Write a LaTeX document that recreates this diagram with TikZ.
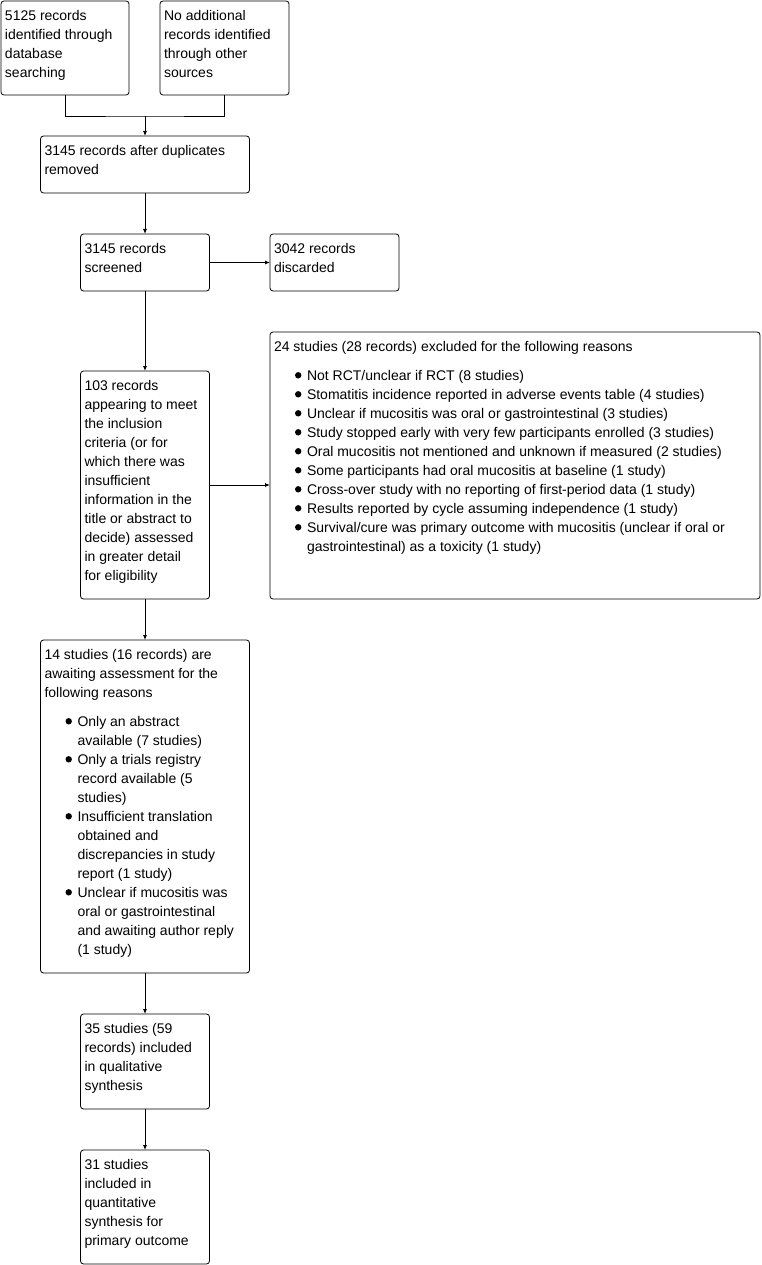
\documentclass[tikz,border=0pt]{standalone}
\usepackage{fontspec}
\setmainfont{Liberation Sans}
\usetikzlibrary{arrows.meta}
\newcommand{\boxtext}[3]{\parbox[t][#2pt][t]{#1pt}{\raggedright\strut #3}}
\newcommand{\dotmark}{\tikz[baseline=-5pt]\fill (0,0) circle (3.2pt);}
\newcommand{\bitem}[1]{\par\hangindent=33pt\hangafter=1\noindent\makebox[33pt][l]{\hspace{21pt}\dotmark}#1}
\begin{document}
\begin{tikzpicture}[x=1pt, y=-1pt,
		box/.style={draw, rounded corners=3pt, line width=0.8pt, anchor=north west, inner xsep=4pt, inner ysep=6pt, outer sep=0pt, font=\fontsize{14}{19}\selectfont},
		arr/.style={-{Latex[length=5pt,width=4pt]}, line width=0.8pt},
		link/.style={line width=0.8pt}]
	\useasboundingbox (0,0) rectangle (761,1265);
	\node[box] (db) 		at (1,1) 			{\boxtext{120}{82}{5125 records\\identified through\\database\\searching}};
	\node[box] (other) 		at (160,1) 		{\boxtext{121}{82}{No additional\\records identified\\through other\\sources}};
	\node[box] (dup) 		at (40.5,136) 	{\boxtext{201}{45}{3145 records after duplicates\\removed}};
	\node[box] (screen) 	at (80.5,234) 	{\boxtext{121}{45}{3145 records\\screened}};
	\node[box] (discard) 	at (270,234) 		{\boxtext{121}{45}{3042 records\\discarded}};
	\node[box] (full) 		at (80.5,371) 	{\boxtext{121}{216}{103 records\\appearing to meet\\the inclusion\\criteria (or for\\which there was\\insufficient\\information in the\\title or abstract to\\decide) assessed\\in greater detail\\for eligibility}};
	\node[box] (excl) 		at (270,332) 		{\boxtext{482}{255}{24 studies (28 records) excluded for the following reasons\par\vspace{10pt}
		\bitem{Not RCT/unclear if RCT (8 studies)}
		\bitem{Stomatitis incidence reported in adverse events table (4 studies)}
		\bitem{Unclear if mucositis was oral or gastrointestinal (3 studies)}
		\bitem{Study stopped early with very few participants enrolled (3 studies)}
		\bitem{Oral mucositis not mentioned and unknown if measured (2 studies)}
		\bitem{Some participants had oral mucositis at baseline (1 study)}
		\bitem{Cross-over study with no reporting of first-period data (1 study)}
		\bitem{Results reported by cycle assuming independence (1 study)}
		\bitem{Survival/cure was primary outcome with mucositis (unclear if oral or\newline gastrointestinal) as a toxicity (1 study)}}};
	\node[box] (await) 		at (40.5,640) 	{\boxtext{201}{321}{14 studies (16 records) are\\awaiting assessment for the\\following reasons\par\vspace{10pt}
		\bitem{Only an abstract\newline available (7 studies)}
		\bitem{Only a trials registry\newline record available (5\newline studies)}
		\bitem{Insufficient translation\newline obtained and\newline discrepancies in study\newline report (1 study)}
		\bitem{Unclear if mucositis was\newline oral or gastrointestinal\newline and awaiting author reply\newline (1 study)}}};
	\node[box] (qual) 		at (80.5,1014) 	{\boxtext{121}{83}{35 studies (59\\records) included\\in qualitative\\synthesis}};
	\node[box] (quant) 		at (80.5,1150) 	{\boxtext{121}{102}{31 studies\\included in\\quantitative\\synthesis for\\primary outcome}};
	\coordinate (merge) at (dup.north |- 0,116);
	\draw[link] 	(db.south) 		|- (merge) -| (other.south);
	\draw[arr] 		(merge) 			-- (dup.north);
	\draw[arr] 		(dup.south) 		-- (screen.north);
	\draw[arr] 		(screen.east) 	-- (discard.west);
	\draw[arr] 		(screen.south) 	-- (full.north);
	\draw[arr] 		(full.east) 		-- (full.east -| excl.west);
	\draw[arr] 		(full.south) 		-- (await.north);
	\draw[arr] 		(await.south) 	-- (qual.north);
	\draw[arr] 		(qual.south) 		-- (quant.north);
\end{tikzpicture}
\end{document}
